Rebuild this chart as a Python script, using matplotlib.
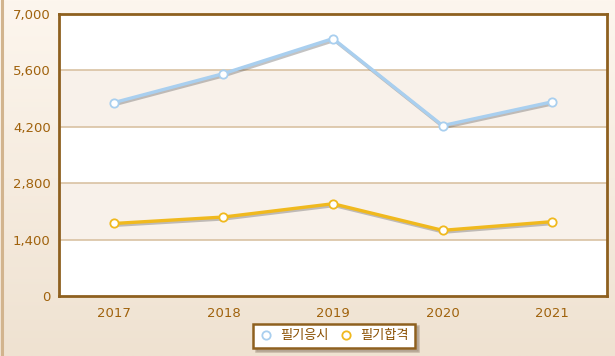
import numpy as np
import matplotlib
matplotlib.use("Agg")
import matplotlib.pyplot as plt
import matplotlib.patheffects as pe
from matplotlib.lines import Line2D

years = ["2017", "2018", "2019", "2020", "2021"]
applicants = [4800, 5520, 6390, 4230, 4820]
passed = [1800, 1960, 2290, 1630, 1845]
series_names = ["필기응시", "필기합격"]
y_ticks = [0, 1400, 2800, 4200, 5600, 7000]

W, H = 615, 356
fig = plt.figure(figsize=(W / 100, H / 100), dpi=100)

# background gradient
bg = fig.add_axes([0, 0, 1, 1], zorder=-10)
grad = np.linspace(0, 1, 256).reshape(-1, 1)
top = np.array([0xfd, 0xf6, 0xee]) / 255
bot = np.array([0xef, 0xe2, 0xd1]) / 255
img = top + (bot - top) * grad[:, :, None]
bg.imshow(img, aspect="auto", extent=[0, 1, 0, 1], origin="upper")
bg.axvline(0.003, color="#d2b48e", lw=2.2)
bg.set_xlim(0, 1); bg.set_ylim(0, 1)
bg.axis("off")

ax = fig.add_axes([59 / W, (H - 296) / H, 548 / W, 282 / H])
ax.set_facecolor("white")
x = np.arange(len(years))
ax.set_xlim(-0.5, len(years) - 0.5)
ax.set_ylim(0, 7000)

# alternating bands
for i in range(len(y_ticks) - 1):
    if i % 2 == 1:
        ax.axhspan(y_ticks[i], y_ticks[i + 1], color="#f8f1ea", zorder=0, lw=0)
for t in y_ticks[1:-1]:
    ax.axhline(t, color="#d9c2a3", lw=1.2, zorder=1)

shadow = [pe.SimpleLineShadow(offset=(1.0, -1.3), shadow_color="#555555", alpha=0.35),
          pe.Normal()]
c_blue = "#a9cfef"
c_yel = "#f0b91e"
for vals, c in ((applicants, c_blue), (passed, c_yel)):
    ax.plot(x, vals, color=c, lw=2.4, zorder=3, path_effects=shadow)
    ax.plot(x, vals, ls="none", marker="o", ms=6, mfc="white",
            mec=c, mew=1.3, zorder=4)

for s in ax.spines.values():
    s.set_color("#8e601f")
    s.set_linewidth(2)
ax.set_xticks(x)
ax.set_xticklabels(years)
ax.set_yticks(y_ticks)
ax.set_yticklabels([f"{v:,}" for v in y_ticks])
ax.tick_params(length=0, labelsize=9.5, colors="#a0620c", pad=6)
ax.tick_params(axis="x", pad=8)

handles = [Line2D([], [], ls="none", marker="o", ms=6, mfc="white", mec=c, mew=1.3)
           for c in (c_blue, c_yel)]
leg = fig.legend(handles, series_names, loc="center", bbox_to_anchor=(334 / W, 1 - 336 / H),
                 ncol=2, frameon=True, fancybox=False,
                 shadow={"color": "#9a8a78", "alpha": 0.5}, handlelength=1.0,
                 handletextpad=0.6, columnspacing=0.8, borderpad=0.45,
                 prop={"family": ["Noto Sans CJK KR", "DejaVu Sans"], "size": 9.5})
leg.get_frame().set_edgecolor("#8e601f")
leg.get_frame().set_linewidth(1.8)
for t in leg.get_texts():
    t.set_color("#8a4f00")

fig.savefig("out.png", dpi=100)
